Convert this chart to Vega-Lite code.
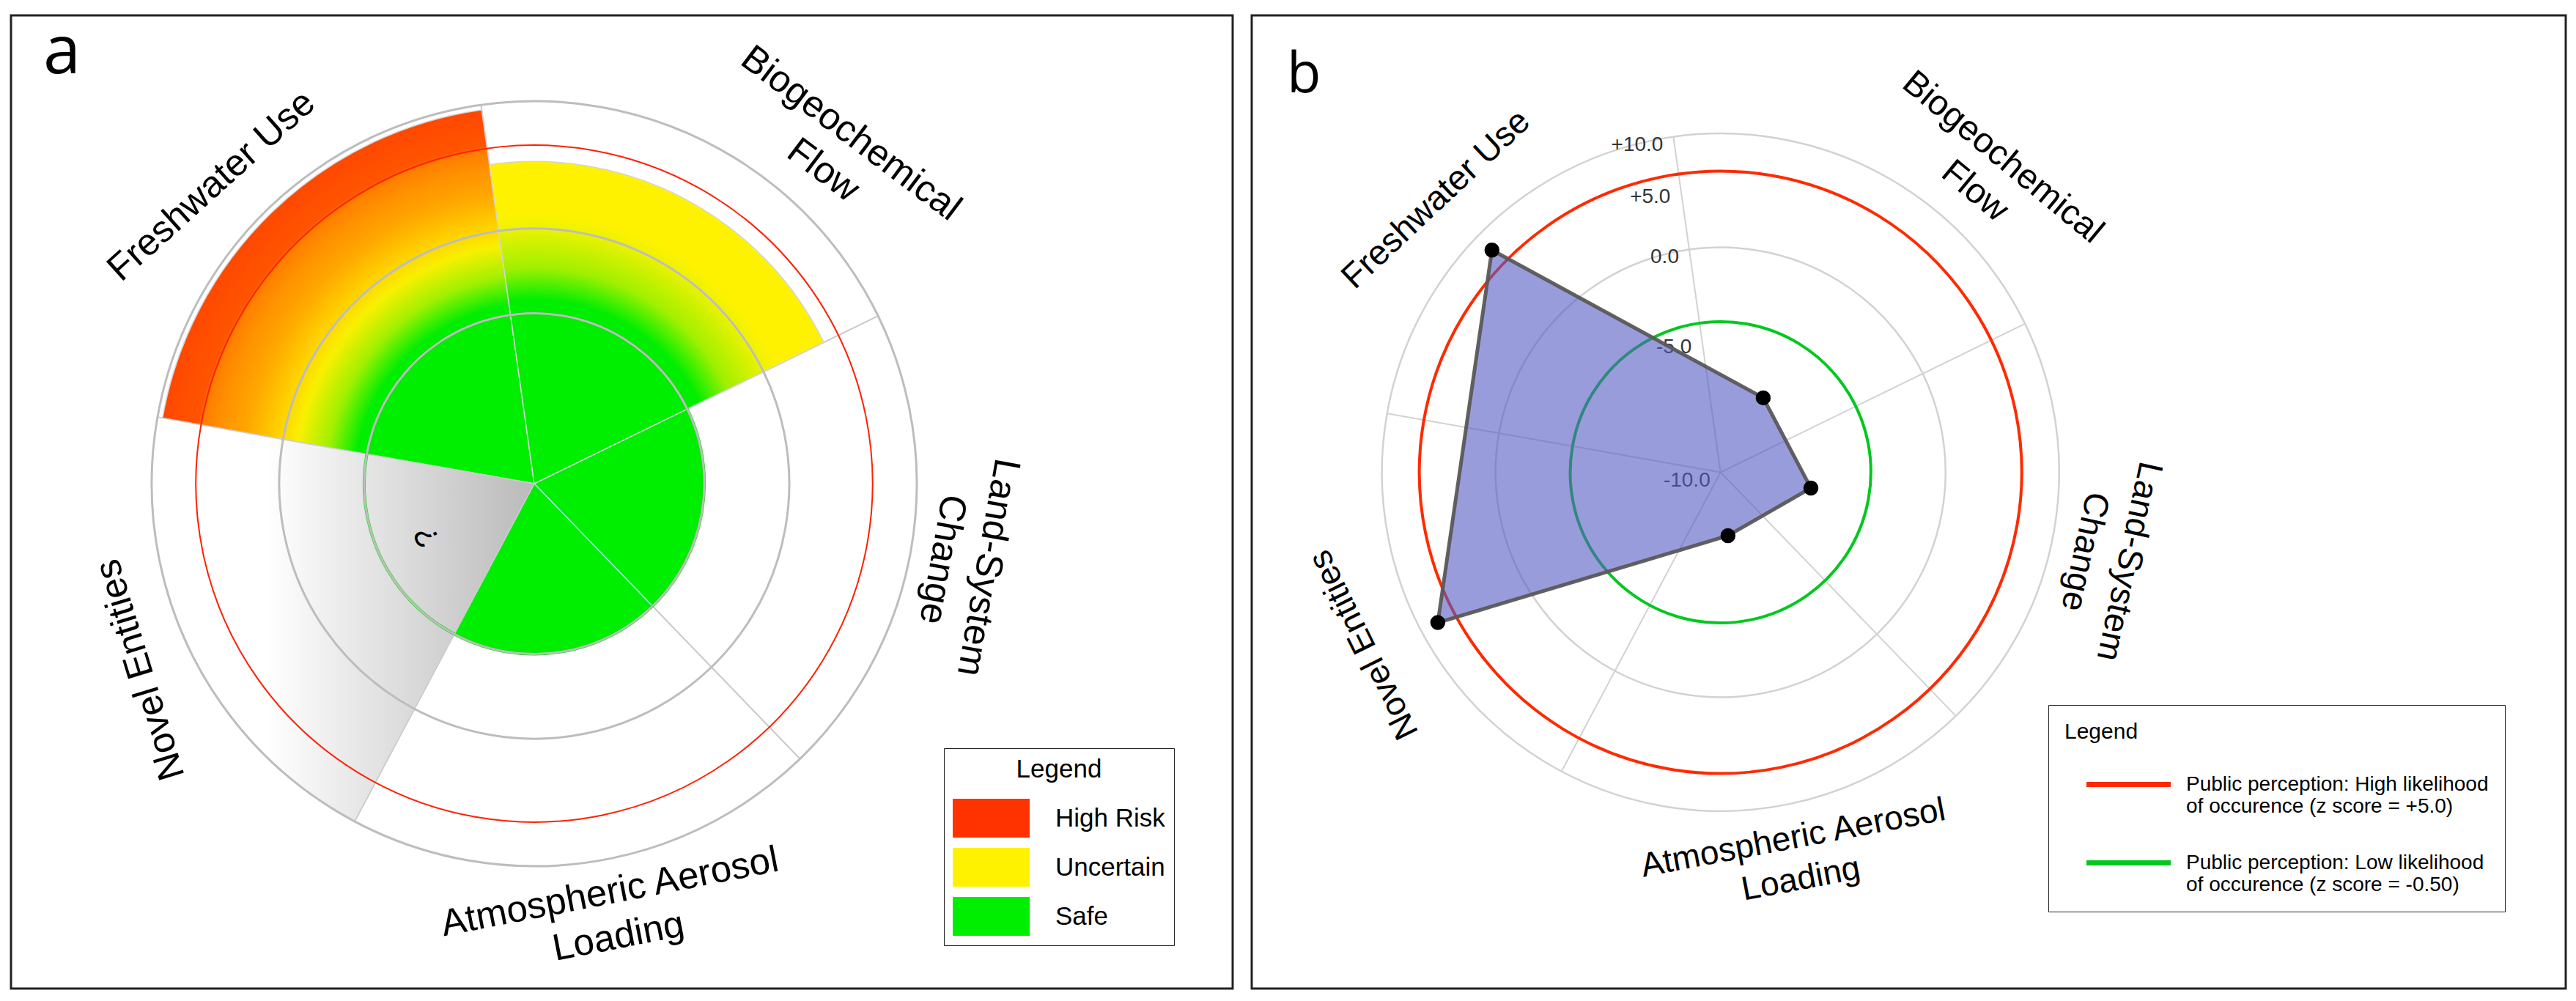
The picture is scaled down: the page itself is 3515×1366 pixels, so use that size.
{
  "$schema": "https://vega.github.io/schema/vega-lite/v6.json",
  "padding": {"left": 13, "top": 19, "right": 20, "bottom": 19},
  "spacing": 22,
  "config": {
    "view": {"stroke": "#222222", "strokeWidth": 3},
    "font": "Liberation Sans"
  },
  "resolve": {
    "scale": {"stroke": "independent", "strokeWidth": "independent", "fill": "independent", "radius": "independent", "theta": "independent"},
    "legend": {"stroke": "independent", "fill": "independent"}
  },
  "datasets": {
    "a_boundaries": [
      {"boundary": "Freshwater Use", "t0": -80, "t1": -8, "extent": 4.44, "status": "High Risk"},
      {"boundary": "Biogeochemical Flow", "t0": -8, "t1": 64, "extent": 3.79, "status": "Uncertain"},
      {"boundary": "Land-System Change", "t0": 64, "t1": 136, "extent": 2.0, "status": "Safe"},
      {"boundary": "Atmospheric Aerosol Loading", "t0": 136, "t1": 208, "extent": 2.0, "status": "Safe"},
      {"boundary": "Novel Entities", "t0": 208, "t1": 280, "extent": 4.5, "status": "Unknown"}
    ],
    "b_scores": [
      {"boundary": "Freshwater Use", "angle": -45.8, "z": 8.13},
      {"boundary": "Biogeochemical Flow", "angle": 29.8, "z": -6.8},
      {"boundary": "Land-System Change", "angle": 99.9, "z": -6.58},
      {"boundary": "Atmospheric Aerosol Loading", "angle": 173.3, "z": -7.62},
      {"boundary": "Novel Entities", "angle": 242.0, "z": 8.26}
    ]
  },
  "hconcat": [
    {
      "width": 1667,
      "height": 1328,
      "layer": [
        {
          "data": {"values": [{"t": -8}, {"t": 64}, {"t": 136}, {"t": 208}, {"t": 280}]},
          "mark": {"type": "arc", "fill": "transparent", "stroke": "#C9C9C9", "strokeWidth": 2},
          "encoding": {
            "x": {"datum": 0, "type": "quantitative", "scale": {"domain": [-6.155, 8.216], "nice": false, "zero": false}, "axis": null},
            "y": {"datum": 0, "type": "quantitative", "scale": {"domain": [-5.940, 5.509], "nice": false, "zero": false}, "axis": null},
            "theta": {"field": "t", "type": "quantitative", "stack": null, "scale": {"domain": [-80, 280], "range": [-1.396263, 4.886922]}},
            "theta2": {"field": "t"},
            "radius": {"datum": 4.5, "type": "quantitative", "scale": {"type": "linear", "domain": [0, 4.5], "range": [0, 522]}},
            "radius2": {"datum": 0}
          }
        },
        {
          "data": {"name": "a_boundaries"},
          "transform": [{"filter": "datum.status === 'Safe'"}],
          "mark": {"type": "arc", "stroke": "#A6E3EE", "strokeWidth": 1.5},
          "encoding": {
            "x": {"datum": 0, "type": "quantitative", "scale": {"domain": [-6.155, 8.216], "nice": false, "zero": false}, "axis": null},
            "y": {"datum": 0, "type": "quantitative", "scale": {"domain": [-5.940, 5.509], "nice": false, "zero": false}, "axis": null},
            "theta": {"field": "t0", "type": "quantitative", "stack": null, "scale": {"domain": [-80, 280], "range": [-1.396263, 4.886922]}},
            "theta2": {"field": "t1"},
            "radius": {"field": "extent", "type": "quantitative", "scale": {"type": "linear", "domain": [0, 4.5], "range": [0, 522]}},
            "radius2": {"datum": 0},
            "fill": {
              "field": "status", "type": "nominal",
              "scale": {"domain": ["High Risk", "Uncertain", "Safe"], "range": ["#FF3300", "#FFF200", "#00EE00"]},
              "legend": {
                "title": "Legend", "orient": "none", "legendX": 1273, "legendY": 1000, "direction": "vertical",
                "titleFont": "Liberation Sans", "titleFontSize": 35, "titleFontWeight": "normal", "titleColor": "#000000", "titleAnchor": "middle", "titlePadding": 22,
                "labelFont": "Liberation Sans", "labelFontSize": 35, "labelColor": "#000000", "labelOffset": 61, "labelLimit": 400,
                "symbolType": "M-2,-1.01L2,-1.01L2,1.01L-2,1.01Z", "symbolSize": 2756, "symbolOffset": 26, "symbolStrokeWidth": 0, "symbolOpacity": 1,
                "rowPadding": 12, "padding": 12, "strokeColor": "#222222", "fillColor": "#FFFFFF",
                "encode": {"legend": {"update": {"strokeWidth": {"value": 2}}}}
              }
            }
          }
        },
        {
          "data": {"name": "a_boundaries"},
          "transform": [{"filter": "datum.boundary === 'Freshwater Use'"}],
          "mark": {
            "type": "arc", "stroke": "#D4D4D4", "strokeWidth": 1.5,
            "fill": {"gradient": "radial", "x1": 0.9973, "y1": 1.0, "r1": 0, "x2": 0.9973, "y2": 1.0, "r2": 1.0098,
              "stops": [
                {"offset": 0, "color": "#00EE00"}, {"offset": 0.476, "color": "#00EE00"}, {"offset": 0.553, "color": "#A0F000"},
                {"offset": 0.635, "color": "#F8F000"}, {"offset": 0.685, "color": "#FFD400"}, {"offset": 0.773, "color": "#FFA800"},
                {"offset": 0.847, "color": "#FF9000"}, {"offset": 0.89, "color": "#FF7E00"}, {"offset": 0.905, "color": "#FF5400"},
                {"offset": 1, "color": "#FF4800"}
              ]}
          },
          "encoding": {
            "x": {"datum": 0, "type": "quantitative", "scale": {"domain": [-6.155, 8.216], "nice": false, "zero": false}, "axis": null},
            "y": {"datum": 0, "type": "quantitative", "scale": {"domain": [-5.940, 5.509], "nice": false, "zero": false}, "axis": null},
            "theta": {"field": "t0", "type": "quantitative", "stack": null, "scale": {"domain": [-80, 280], "range": [-1.396263, 4.886922]}},
            "theta2": {"field": "t1"},
            "radius": {"field": "extent", "type": "quantitative", "scale": {"type": "linear", "domain": [0, 4.5], "range": [0, 522]}},
            "radius2": {"datum": 0}
          }
        },
        {
          "data": {"name": "a_boundaries"},
          "transform": [{"filter": "datum.boundary === 'Biogeochemical Flow'"}],
          "mark": {
            "type": "arc", "stroke": "#D4D4D4", "strokeWidth": 1.5,
            "fill": {"gradient": "radial", "x1": 0.134, "y1": 0.9817, "r1": 0, "x2": 0.134, "y2": 0.9817, "r2": 0.9634,
              "stops": [
                {"offset": 0, "color": "#00EE00"}, {"offset": 0.57, "color": "#00EE00"}, {"offset": 0.67, "color": "#A0F000"},
                {"offset": 0.8, "color": "#F0F200"}, {"offset": 0.84, "color": "#FFF200"}, {"offset": 1, "color": "#FFF200"}
              ]}
          },
          "encoding": {
            "x": {"datum": 0, "type": "quantitative", "scale": {"domain": [-6.155, 8.216], "nice": false, "zero": false}, "axis": null},
            "y": {"datum": 0, "type": "quantitative", "scale": {"domain": [-5.940, 5.509], "nice": false, "zero": false}, "axis": null},
            "theta": {"field": "t0", "type": "quantitative", "stack": null, "scale": {"domain": [-80, 280], "range": [-1.396263, 4.886922]}},
            "theta2": {"field": "t1"},
            "radius": {"field": "extent", "type": "quantitative", "scale": {"type": "linear", "domain": [0, 4.5], "range": [0, 522]}},
            "radius2": {"datum": 0}
          }
        },
        {
          "data": {"name": "a_boundaries"},
          "transform": [{"filter": "datum.boundary === 'Novel Entities'"}],
          "mark": {
            "type": "arc", "stroke": "#CCCCCC", "strokeWidth": 1.5,
            "fill": {"gradient": "linear", "x1": 1, "y1": 0.5, "x2": 0.3, "y2": 0.5,
              "stops": [{"offset": 0, "color": "#BABABA"}, {"offset": 1, "color": "#FFFFFF"}]}
          },
          "encoding": {
            "x": {"datum": 0, "type": "quantitative", "scale": {"domain": [-6.155, 8.216], "nice": false, "zero": false}, "axis": null},
            "y": {"datum": 0, "type": "quantitative", "scale": {"domain": [-5.940, 5.509], "nice": false, "zero": false}, "axis": null},
            "theta": {"field": "t0", "type": "quantitative", "stack": null, "scale": {"domain": [-80, 280], "range": [-1.396263, 4.886922]}},
            "theta2": {"field": "t1"},
            "radius": {"field": "extent", "type": "quantitative", "scale": {"type": "linear", "domain": [0, 4.5], "range": [0, 522]}},
            "radius2": {"datum": 0}
          }
        },
        {
          "data": {"values": [{"ring": "safe boundary", "r": 2}, {"ring": "grid", "r": 2}, {"ring": "grid", "r": 3}, {"ring": "grid", "r": 4.5}, {"ring": "high risk boundary", "r": 3.98}]},
          "mark": {"type": "arc", "fill": "transparent"},
          "encoding": {
            "x": {"datum": 0, "type": "quantitative", "scale": {"domain": [-6.155, 8.216], "nice": false, "zero": false}, "axis": null},
            "y": {"datum": 0, "type": "quantitative", "scale": {"domain": [-5.940, 5.509], "nice": false, "zero": false}, "axis": null},
            "theta": {"datum": -80, "type": "quantitative", "scale": {"domain": [-80, 280], "range": [-1.396263, 4.886922]}},
            "theta2": {"datum": 281},
            "radius": {"field": "r", "type": "quantitative", "scale": {"type": "linear", "domain": [0, 4.5], "range": [0, 522]}},
            "radius2": {"datum": 0},
            "stroke": {"field": "ring", "type": "nominal", "scale": {"domain": ["safe boundary", "grid", "high risk boundary"], "range": ["#00DD00", "#BDBDBD", "#FF2000"]}, "legend": null},
            "strokeWidth": {"field": "ring", "type": "nominal", "scale": {"domain": ["safe boundary", "grid", "high risk boundary"], "range": [4, 2, 4.5]}, "legend": null}
          }
        },
        {
          "data": {"values": [{"panel": "a"}]},
          "mark": {"type": "text", "align": "left", "baseline": "alphabetic", "fontSize": 92, "font": "Open Sans", "color": "#000000"},
          "encoding": {
            "x": {"datum": -5.776, "type": "quantitative", "scale": {"domain": [-6.155, 8.216], "nice": false, "zero": false}, "axis": null},
            "y": {"datum": 4.828, "type": "quantitative", "scale": {"domain": [-5.940, 5.509], "nice": false, "zero": false}, "axis": null},
            "text": {"field": "panel", "type": "nominal"}
          }
        },
        {
          "data": {"values": [{}]},
          "mark": {"type": "text", "angle": -42, "align": "center", "baseline": "middle", "fontSize": 51, "font": "Liberation Sans", "color": "#000000"},
          "encoding": {
            "x": {"datum": 0, "type": "quantitative", "scale": {"domain": [-6.155, 8.216], "nice": false, "zero": false}, "axis": null},
            "y": {"datum": 0, "type": "quantitative", "scale": {"domain": [-5.940, 5.509], "nice": false, "zero": false}, "axis": null},
            "text": {"value": "Freshwater Use"},
            "theta": {"datum": -47.3, "type": "quantitative", "scale": {"domain": [-80, 280], "range": [-1.396263, 4.886922]}},
            "radius": {"datum": 5.16, "type": "quantitative", "scale": {"type": "linear", "domain": [0, 4.5], "range": [0, 522]}}
          }
        },
        {
          "data": {"values": [{}]},
          "mark": {"type": "text", "angle": 37, "align": "center", "baseline": "middle", "dy": -31.5, "fontSize": 51, "lineHeight": 63, "lineBreak": "\n", "font": "Liberation Sans", "color": "#000000"},
          "encoding": {
            "x": {"datum": 0, "type": "quantitative", "scale": {"domain": [-6.155, 8.216], "nice": false, "zero": false}, "axis": null},
            "y": {"datum": 0, "type": "quantitative", "scale": {"domain": [-5.940, 5.509], "nice": false, "zero": false}, "axis": null},
            "text": {"value": "Biogeochemical\nFlow"},
            "theta": {"datum": 42.4, "type": "quantitative", "scale": {"domain": [-80, 280], "range": [-1.396263, 4.886922]}},
            "radius": {"datum": 5.28, "type": "quantitative", "scale": {"type": "linear", "domain": [0, 4.5], "range": [0, 522]}}
          }
        },
        {
          "data": {"values": [{}]},
          "mark": {"type": "text", "angle": 100, "align": "center", "baseline": "middle", "dy": -31.5, "fontSize": 51, "lineHeight": 63, "lineBreak": "\n", "font": "Liberation Sans", "color": "#000000"},
          "encoding": {
            "x": {"datum": 0, "type": "quantitative", "scale": {"domain": [-6.155, 8.216], "nice": false, "zero": false}, "axis": null},
            "y": {"datum": 0, "type": "quantitative", "scale": {"domain": [-5.940, 5.509], "nice": false, "zero": false}, "axis": null},
            "text": {"value": "Land-System\nChange"},
            "theta": {"datum": 100.5, "type": "quantitative", "scale": {"domain": [-80, 280], "range": [-1.396263, 4.886922]}},
            "radius": {"datum": 5.15, "type": "quantitative", "scale": {"type": "linear", "domain": [0, 4.5], "range": [0, 522]}}
          }
        },
        {
          "data": {"values": [{}]},
          "mark": {"type": "text", "angle": -11, "align": "center", "baseline": "middle", "dy": -31, "fontSize": 51, "lineHeight": 62, "lineBreak": "\n", "font": "Liberation Sans", "color": "#000000"},
          "encoding": {
            "x": {"datum": 0, "type": "quantitative", "scale": {"domain": [-6.155, 8.216], "nice": false, "zero": false}, "axis": null},
            "y": {"datum": 0, "type": "quantitative", "scale": {"domain": [-5.940, 5.509], "nice": false, "zero": false}, "axis": null},
            "text": {"value": "Atmospheric Aerosol\nLoading"},
            "theta": {"datum": 169.5, "type": "quantitative", "scale": {"domain": [-80, 280], "range": [-1.396263, 4.886922]}},
            "radius": {"datum": 5.16, "type": "quantitative", "scale": {"type": "linear", "domain": [0, 4.5], "range": [0, 522]}}
          }
        },
        {
          "data": {"values": [{}]},
          "mark": {"type": "text", "angle": -107, "align": "center", "baseline": "middle", "fontSize": 51, "font": "Liberation Sans", "color": "#000000"},
          "encoding": {
            "x": {"datum": 0, "type": "quantitative", "scale": {"domain": [-6.155, 8.216], "nice": false, "zero": false}, "axis": null},
            "y": {"datum": 0, "type": "quantitative", "scale": {"domain": [-5.940, 5.509], "nice": false, "zero": false}, "axis": null},
            "text": {"value": "Novel Entities"},
            "theta": {"datum": 244.7, "type": "quantitative", "scale": {"domain": [-80, 280], "range": [-1.396263, 4.886922]}},
            "radius": {"datum": 5.12, "type": "quantitative", "scale": {"type": "linear", "domain": [0, 4.5], "range": [0, 522]}}
          }
        },
        {
          "data": {"values": [{}]},
          "mark": {"type": "text", "angle": -115, "align": "center", "baseline": "middle", "fontSize": 44, "font": "Liberation Sans", "color": "#000000"},
          "encoding": {
            "x": {"datum": 0, "type": "quantitative", "scale": {"domain": [-6.155, 8.216], "nice": false, "zero": false}, "axis": null},
            "y": {"datum": 0, "type": "quantitative", "scale": {"domain": [-5.940, 5.509], "nice": false, "zero": false}, "axis": null},
            "text": {"value": "?"},
            "theta": {"datum": 243.6, "type": "quantitative", "scale": {"domain": [-80, 280], "range": [-1.396263, 4.886922]}},
            "radius": {"datum": 1.4, "type": "quantitative", "scale": {"type": "linear", "domain": [0, 4.5], "range": [0, 522]}}
          }
        }
      ]
    },
    {
      "width": 1793,
      "height": 1328,
      "resolve": {"scale": {"radius": "independent"}},
      "layer": [
        {
          "data": {"values": [{"z": 0}, {"z": 10}]},
          "mark": {"type": "arc", "fill": "transparent", "stroke": "#D2D2D2", "strokeWidth": 2.5},
          "encoding": {
            "x": {"datum": 0, "type": "quantitative", "scale": {"domain": [-4.154, 7.489], "nice": false, "zero": false}, "axis": null},
            "y": {"datum": 0, "type": "quantitative", "scale": {"domain": [-4.575, 4.049], "nice": false, "zero": false}, "axis": null},
            "theta": {"datum": -80, "type": "quantitative", "scale": {"domain": [-80, 280], "range": [-1.396263, 4.886922]}},
            "theta2": {"datum": 281},
            "radius": {"field": "z", "type": "quantitative", "scale": {"type": "linear", "domain": [-10, -5, 0, 5, 10], "range": [0, 183, 307, 390, 462]}},
            "radius2": {"datum": -10}
          }
        },
        {
          "data": {"values": [{"t": -8}, {"t": 64}, {"t": 136}, {"t": 208}, {"t": 280}]},
          "mark": {"type": "arc", "fill": "transparent", "stroke": "#D2D2D2", "strokeWidth": 2},
          "encoding": {
            "x": {"datum": 0, "type": "quantitative", "scale": {"domain": [-4.154, 7.489], "nice": false, "zero": false}, "axis": null},
            "y": {"datum": 0, "type": "quantitative", "scale": {"domain": [-4.575, 4.049], "nice": false, "zero": false}, "axis": null},
            "theta": {"field": "t", "type": "quantitative", "stack": null, "scale": {"domain": [-80, 280], "range": [-1.396263, 4.886922]}},
            "theta2": {"field": "t"},
            "radius": {"datum": 10, "type": "quantitative", "scale": {"type": "linear", "domain": [-10, -5, 0, 5, 10], "range": [0, 183, 307, 390, 462]}},
            "radius2": {"datum": -10}
          }
        },
        {
          "data": {"values": [{"tick": "+10.0", "z": 10}, {"tick": "+5.0", "z": 5}, {"tick": "0.0", "z": 0}, {"tick": "-5.0", "z": -5}, {"tick": "-10.0", "z": -10}]},
          "mark": {"type": "text", "align": "right", "baseline": "middle", "dx": -14, "dy": 11, "fontSize": 28, "font": "Liberation Sans", "color": "#333333"},
          "encoding": {
            "x": {"datum": 0, "type": "quantitative", "scale": {"domain": [-4.154, 7.489], "nice": false, "zero": false}, "axis": null},
            "y": {"datum": 0, "type": "quantitative", "scale": {"domain": [-4.575, 4.049], "nice": false, "zero": false}, "axis": null},
            "text": {"field": "tick", "type": "nominal"},
            "theta": {"datum": -8, "type": "quantitative", "scale": {"domain": [-80, 280], "range": [-1.396263, 4.886922]}},
            "radius": {"field": "z", "type": "quantitative", "scale": {"type": "linear", "domain": [-10, -5, 0, 5, 10], "range": [0, 183, 307, 390, 462]}}
          }
        },
        {
          "data": {"values": [{"line": "High", "z": 6.46}, {"line": "Low", "z": -4.11}]},
          "mark": {"type": "arc", "fill": "transparent", "strokeWidth": 4},
          "encoding": {
            "x": {"datum": 0, "type": "quantitative", "scale": {"domain": [-4.154, 7.489], "nice": false, "zero": false}, "axis": null},
            "y": {"datum": 0, "type": "quantitative", "scale": {"domain": [-4.575, 4.049], "nice": false, "zero": false}, "axis": null},
            "theta": {"datum": -80, "type": "quantitative", "scale": {"domain": [-80, 280], "range": [-1.396263, 4.886922]}},
            "theta2": {"datum": 281},
            "radius": {"field": "z", "type": "quantitative", "scale": {"type": "linear", "domain": [-10, -5, 0, 5, 10], "range": [0, 183, 307, 390, 462]}},
            "radius2": {"datum": -10},
            "stroke": {
              "field": "line", "type": "nominal",
              "scale": {"domain": ["High", "Low"], "range": ["#FF2A00", "#00C81E"]},
              "legend": {
                "title": "Legend", "orient": "none", "legendX": 1087, "legendY": 941, "direction": "vertical",
                "titleFont": "Liberation Sans", "titleFontSize": 30, "titleFontWeight": "normal", "titleColor": "#000000", "titleAnchor": "start", "titlePadding": 24,
                "labelFont": "Liberation Sans", "labelFontSize": 28, "labelColor": "#000000", "labelOffset": 46, "labelLimit": 800,
                "labelExpr": "datum.value == 'High' ? ['Public perception: High likelihood', 'of occurence (z score = +5.0)'] : ['Public perception: Low likelihood', 'of occurence (z score = -0.50)']",
                "symbolType": "M-2,0L2,0", "symbolSize": 3306, "symbolStrokeWidth": 7, "symbolOffset": 55,
                "rowPadding": 30, "padding": 22, "strokeColor": "#222222", "fillColor": "#FFFFFF",
                "encode": {
                  "legend": {"update": {"strokeWidth": {"value": 4}}},
                  "labels": {"update": {"lineHeight": {"value": 35}}}
                }
              }
            }
          }
        },
        {
          "data": {"name": "b_scores"},
          "transform": [
            {"calculate": "datum.z <= -5 ? (datum.z + 10) / 5 * 1.1883 : datum.z <= 0 ? 1.1883 + (datum.z + 5) / 5 * 0.8052 : datum.z <= 5 ? 1.9935 + datum.z / 5 * 0.539 : 2.5325 + (datum.z - 5) / 5 * 0.4675", "as": "rg"},
            {"calculate": "datum.rg * sin(datum.angle * PI / 180)", "as": "px"},
            {"calculate": "datum.rg * cos(datum.angle * PI / 180)", "as": "py"}
          ],
          "mark": {"type": "line", "interpolate": "linear-closed", "fill": "#555AC3", "fillOpacity": 0.6, "stroke": "#595959", "strokeWidth": 5, "strokeOpacity": 0.95},
          "encoding": {
            "x": {"field": "px", "type": "quantitative", "scale": {"domain": [-4.154, 7.489], "nice": false, "zero": false}, "axis": null},
            "y": {"field": "py", "type": "quantitative", "scale": {"domain": [-4.575, 4.049], "nice": false, "zero": false}, "axis": null},
            "order": {"field": "angle", "type": "quantitative"}
          }
        },
        {
          "data": {"name": "b_scores"},
          "transform": [
            {"calculate": "datum.z <= -5 ? (datum.z + 10) / 5 * 1.1883 : datum.z <= 0 ? 1.1883 + (datum.z + 5) / 5 * 0.8052 : datum.z <= 5 ? 1.9935 + datum.z / 5 * 0.539 : 2.5325 + (datum.z - 5) / 5 * 0.4675", "as": "rg"},
            {"calculate": "datum.rg * sin(datum.angle * PI / 180)", "as": "px"},
            {"calculate": "datum.rg * cos(datum.angle * PI / 180)", "as": "py"}
          ],
          "mark": {"type": "point", "filled": true, "color": "#000000", "size": 420, "opacity": 1},
          "encoding": {
            "x": {"field": "px", "type": "quantitative", "scale": {"domain": [-4.154, 7.489], "nice": false, "zero": false}, "axis": null},
            "y": {"field": "py", "type": "quantitative", "scale": {"domain": [-4.575, 4.049], "nice": false, "zero": false}, "axis": null}
          }
        },
        {
          "data": {"values": [{"panel": "b"}]},
          "mark": {"type": "text", "align": "left", "baseline": "alphabetic", "fontSize": 76, "font": "Open Sans", "color": "#000000"},
          "encoding": {
            "x": {"datum": -3.842, "type": "quantitative", "scale": {"domain": [-4.154, 7.489], "nice": false, "zero": false}, "axis": null},
            "y": {"datum": 3.367, "type": "quantitative", "scale": {"domain": [-4.575, 4.049], "nice": false, "zero": false}, "axis": null},
            "text": {"field": "panel", "type": "nominal"}
          }
        },
        {
          "data": {"values": [{}]},
          "mark": {"type": "text", "angle": -43.2, "align": "center", "baseline": "middle", "fontSize": 47, "font": "Liberation Sans", "color": "#000000"},
          "encoding": {
            "x": {"datum": 0, "type": "quantitative", "scale": {"domain": [-4.154, 7.489], "nice": false, "zero": false}, "axis": null},
            "y": {"datum": 0, "type": "quantitative", "scale": {"domain": [-4.575, 4.049], "nice": false, "zero": false}, "axis": null},
            "text": {"value": "Freshwater Use"},
            "theta": {"datum": -46.2, "type": "quantitative", "scale": {"domain": [-80, 280], "range": [-1.396263, 4.886922]}},
            "radius": {"datum": 3.49, "type": "quantitative", "scale": {"type": "linear", "domain": [0, 3], "range": [0, 462]}}
          }
        },
        {
          "data": {"values": [{}]},
          "mark": {"type": "text", "angle": 39.6, "align": "center", "baseline": "middle", "dy": -30, "fontSize": 48, "lineHeight": 60, "lineBreak": "\n", "font": "Liberation Sans", "color": "#000000"},
          "encoding": {
            "x": {"datum": 0, "type": "quantitative", "scale": {"domain": [-4.154, 7.489], "nice": false, "zero": false}, "axis": null},
            "y": {"datum": 0, "type": "quantitative", "scale": {"domain": [-4.575, 4.049], "nice": false, "zero": false}, "axis": null},
            "text": {"value": "Biogeochemical\nFlow"},
            "theta": {"datum": 42.0, "type": "quantitative", "scale": {"domain": [-80, 280], "range": [-1.396263, 4.886922]}},
            "radius": {"datum": 3.55, "type": "quantitative", "scale": {"type": "linear", "domain": [0, 3], "range": [0, 462]}}
          }
        },
        {
          "data": {"values": [{}]},
          "mark": {"type": "text", "angle": 102.3, "align": "center", "baseline": "middle", "dy": -31, "fontSize": 47, "lineHeight": 62, "lineBreak": "\n", "font": "Liberation Sans", "color": "#000000"},
          "encoding": {
            "x": {"datum": 0, "type": "quantitative", "scale": {"domain": [-4.154, 7.489], "nice": false, "zero": false}, "axis": null},
            "y": {"datum": 0, "type": "quantitative", "scale": {"domain": [-4.575, 4.049], "nice": false, "zero": false}, "axis": null},
            "text": {"value": "Land-System\nChange"},
            "theta": {"datum": 102.3, "type": "quantitative", "scale": {"domain": [-80, 280], "range": [-1.396263, 4.886922]}},
            "radius": {"datum": 3.5, "type": "quantitative", "scale": {"type": "linear", "domain": [0, 3], "range": [0, 462]}}
          }
        },
        {
          "data": {"values": [{}]},
          "mark": {"type": "text", "angle": -10.7, "align": "center", "baseline": "middle", "dy": -28.5, "fontSize": 46, "lineHeight": 57, "lineBreak": "\n", "font": "Liberation Sans", "color": "#000000"},
          "encoding": {
            "x": {"datum": 0, "type": "quantitative", "scale": {"domain": [-4.154, 7.489], "nice": false, "zero": false}, "axis": null},
            "y": {"datum": 0, "type": "quantitative", "scale": {"domain": [-4.575, 4.049], "nice": false, "zero": false}, "axis": null},
            "text": {"value": "Atmospheric Aerosol\nLoading"},
            "theta": {"datum": 168.8, "type": "quantitative", "scale": {"domain": [-80, 280], "range": [-1.396263, 4.886922]}},
            "radius": {"datum": 3.49, "type": "quantitative", "scale": {"type": "linear", "domain": [0, 3], "range": [0, 462]}}
          }
        },
        {
          "data": {"values": [{}]},
          "mark": {"type": "text", "angle": -116.4, "align": "center", "baseline": "middle", "fontSize": 46, "font": "Liberation Sans", "color": "#000000"},
          "encoding": {
            "x": {"datum": 0, "type": "quantitative", "scale": {"domain": [-4.154, 7.489], "nice": false, "zero": false}, "axis": null},
            "y": {"datum": 0, "type": "quantitative", "scale": {"domain": [-4.575, 4.049], "nice": false, "zero": false}, "axis": null},
            "text": {"value": "Novel Entities"},
            "theta": {"datum": 244.2, "type": "quantitative", "scale": {"domain": [-80, 280], "range": [-1.396263, 4.886922]}},
            "radius": {"datum": 3.51, "type": "quantitative", "scale": {"type": "linear", "domain": [0, 3], "range": [0, 462]}}
          }
        }
      ]
    }
  ]
}
